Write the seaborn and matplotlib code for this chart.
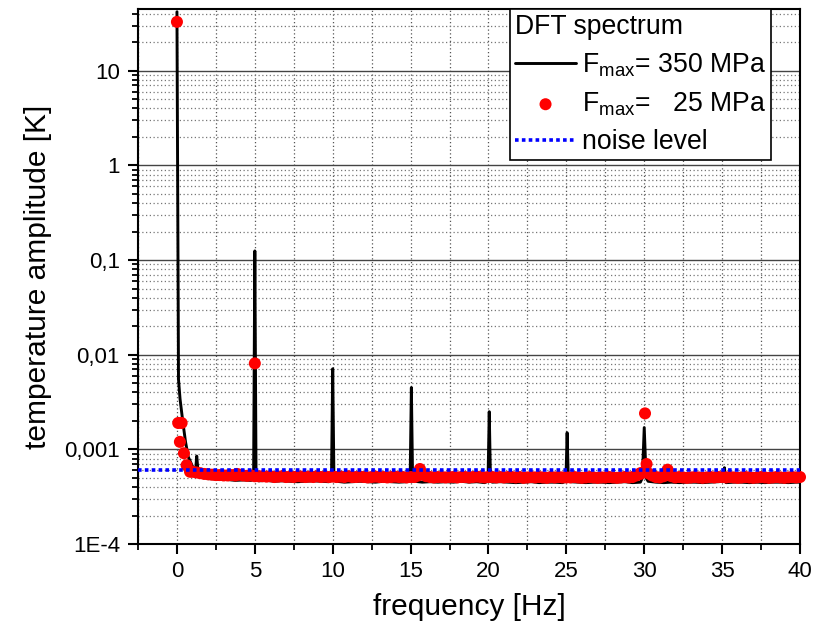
import numpy as np
import pandas as pd
import matplotlib
matplotlib.use('Agg')
import matplotlib.pyplot as plt
import matplotlib.ticker as mticker
import seaborn as sns

# --- data (frequency in Hz, amplitude in K) ---

# black spectrum, F_max = 350 MPa: DC decay and harmonic peaks
black_peak_freq = [0.0, 0.1, 0.2, 0.37, 0.55, 0.73, 1.0, 1.2, 1.27, 1.35, 1.6, 2.0,
                   4.92, 5.0, 5.08, 9.92, 10.0, 10.08, 14.97, 15.05, 15.13,
                   19.97, 20.05, 20.13, 24.97, 25.05, 25.13, 29.88, 30.0, 30.12,
                   35.07, 35.15, 35.23, 40.0]
black_peak_amp = [42.0, 0.0055, 0.0034, 0.002, 0.0012, 0.00083, 0.00066, 0.0006,
                  0.00085, 0.0006, 0.00053, 0.00049,
                  0.00048, 0.125, 0.00048, 0.00047, 0.0071, 0.00047,
                  0.00046, 0.0045, 0.00046, 0.00046, 0.0025, 0.00046,
                  0.00046, 0.0015, 0.00046, 0.0005, 0.0017, 0.0005,
                  0.00046, 0.00064, 0.00046, 0.00045]
# black noise floor between the peaks (units of 1E-4 K)
black_base_freq = np.arange(2.25, 40.0, 0.5)
black_base_amp = [4.9, 4.8, 4.8, 4.7, 4.75, 4.7, 4.65, 4.7, 4.6, 4.65,
                  4.6, 4.55, 4.6, 4.65, 4.6, 4.55, 4.6, 4.5, 4.55, 4.6,
                  4.55, 4.5, 4.6, 4.55, 4.5, 4.55, 4.6, 4.5, 4.55, 4.5,
                  4.55, 4.5, 4.6, 4.5, 4.55, 4.45, 4.5, 4.55, 4.5, 4.45,
                  4.5, 4.55, 4.45, 4.5, 4.5, 4.45, 4.55, 4.5, 4.45, 4.5,
                  4.5, 4.45, 4.5, 4.55, 4.45, 4.5, 4.6, 4.5, 4.45, 4.5,
                  4.45, 4.5, 4.5, 4.45, 4.5, 4.55, 4.45, 4.5, 4.5, 4.45,
                  4.5, 4.45, 4.5, 4.5, 4.45, 4.5]

# red points, F_max = 25 MPa: DC region and peaks
red_peak_freq = [0.0, 0.08, 0.3, 0.19, 0.45, 0.62, 0.84, 3.85, 5.0, 15.6,
                 29.75, 30.05, 30.15, 31.5]
red_peak_amp = [32.9, 0.0019, 0.0019, 0.0012, 0.00091, 0.00068, 0.00058,
                0.00055, 0.0081, 0.00062, 0.00056, 0.0024, 0.0007, 0.00061]
# red noise floor (units of 1E-4 K)
red_base_freq = np.arange(1.0, 40.001, 0.25)
red_base_amp = [5.8, 5.7, 5.6, 5.5, 5.45,
                5.4, 5.35, 5.35, 5.3, 5.3, 5.35, 5.3, 5.4, 5.3, 5.25, 5.3, 5.2,
                5.2, 5.2, 5.15, 5.2, 5.1, 5.15, 5.2, 5.1, 5.15, 5.1,
                5.2, 5.15, 5.1, 5.15, 5.1, 5.2, 5.1, 5.15, 5.1, 5.15,
                5.1, 5.15, 5.1, 5.2, 5.1, 5.1, 5.15, 5.1, 5.05, 5.1,
                5.15, 5.1, 5.1, 5.05, 5.1, 5.15, 5.1, 5.1, 5.05, 5.1,
                5.1, 5.3, 5.5, 5.2, 5.1, 5.05, 5.1, 5.1, 5.05, 5.1,
                5.1, 5.05, 5.1, 5.1, 5.05, 5.1, 5.15, 5.1, 5.05, 5.1,
                5.1, 5.05, 5.1, 5.05, 5.1, 5.1, 5.05, 5.1, 5.0, 5.05,
                5.1, 5.05, 5.1, 5.05, 5.0, 5.1, 5.05, 5.1, 5.05, 5.05,
                5.05, 5.1, 5.05, 5.0, 5.05, 5.1, 5.05, 5.0, 5.05, 5.05,
                5.1, 5.05, 5.0, 5.05, 5.1, 5.05, 5.1, 5.3, 5.5, 5.8,
                5.6, 5.3, 5.1, 5.05, 5.2, 5.5, 5.2, 5.05, 5.1, 5.05,
                5.0, 5.05, 5.1, 5.05, 5.0, 5.05, 5.1, 5.05, 5.1, 5.1,
                5.05, 5.1, 5.05, 5.0, 5.05, 5.1, 5.05, 5.0, 5.05, 5.1,
                5.05, 5.0, 5.05, 5.1, 5.05, 5.0, 5.05, 5.1, 5.05, 5.1]

noise_level = 6.0e-4

y_tick_vals = [1e-4, 1e-3, 1e-2, 1e-1, 1, 10]
y_tick_labels = ['1E-4', '0,001', '0,01', '0,1', '1', '10']

# --- tables ---
black_df = pd.DataFrame({
    'freq': np.concatenate([black_peak_freq, black_base_freq]),
    'amp': np.concatenate([black_peak_amp, np.array(black_base_amp) * 1e-4]),
}).sort_values('freq')
red_df = pd.DataFrame({
    'freq': np.concatenate([red_peak_freq, red_base_freq]),
    'amp': np.concatenate([red_peak_amp, np.array(red_base_amp) * 1e-4]),
})

sns.set_style('white')
plt.rcParams['font.family'] = ['Liberation Sans', 'DejaVu Sans']
plt.rcParams['mathtext.fontset'] = 'custom'
plt.rcParams['mathtext.rm'] = 'Liberation Sans'
plt.rcParams['mathtext.it'] = 'Liberation Sans:italic'
plt.rcParams['text.color'] = 'black'
plt.rcParams['axes.labelcolor'] = 'black'

fig = plt.figure(figsize=(8.13, 6.24), dpi=100)
ax = fig.add_axes([138 / 813, 1 - 544 / 624, (800 - 138) / 813, (544 - 9) / 624])

sns.lineplot(data=black_df, x='freq', y='amp', ax=ax, color='black', lw=2.1,
             sort=False, estimator=None, zorder=2,
             label=r'F$_{\rm max}$= 350 MPa')
sns.scatterplot(data=red_df, x='freq', y='amp', ax=ax, color='#ff0000', s=75,
                edgecolor='none', linewidth=0, zorder=3, clip_on=False,
                label=r'F$_{\rm max}$=   25 MPa')
ax.axhline(noise_level, color='#0000ff', lw=2.6, ls=(0, (1, 0.9)),
           zorder=4, label='noise level')

ax.set_yscale('log')
ax.set_xlim(-2.5, 40)
ax.set_ylim(1e-4, 45)

ax.xaxis.set_major_locator(mticker.MultipleLocator(5))
ax.xaxis.set_minor_locator(mticker.MultipleLocator(2.5))
ax.yaxis.set_major_locator(mticker.FixedLocator(y_tick_vals))
ax.yaxis.set_minor_locator(mticker.LogLocator(base=10, subs=np.arange(2, 10), numticks=20))
ax.yaxis.set_major_formatter(mticker.FixedFormatter(y_tick_labels))
ax.yaxis.set_minor_formatter(mticker.NullFormatter())

ax.tick_params(which='major', direction='out', length=7, width=1.5,
               labelsize=16, color='black', labelcolor='black')
ax.tick_params(axis='y', which='major', pad=6)
ax.tick_params(axis='x', which='major', pad=5)
ax.tick_params(which='minor', direction='out', length=4, width=1.3, color='black')
ax.tick_params(left=True, bottom=True, which='both')

for sp in ax.spines.values():
    sp.set_visible(True)
    sp.set_color('black')
    sp.set_linewidth(1.5)

ax.set_axisbelow(True)
ax.grid(which='major', axis='y', color='#444444', lw=1.0, ls='-')
ax.grid(which='minor', axis='y', color='#777777', lw=0.9, ls=(0, (1, 2)))
ax.grid(which='both', axis='x', color='#555555', lw=0.9, ls=(0, (1, 2)))

ax.set_xlabel('frequency [Hz]', fontsize=21.5, labelpad=8)
ax.set_ylabel('temperature amplitude [K]', fontsize=21.5, labelpad=9)

handles, labels = ax.get_legend_handles_labels()
leg = ax.legend(handles, labels, title='DFT spectrum', loc='upper right',
                bbox_to_anchor=(0.956, 1.0), borderaxespad=0, frameon=True,
                fancybox=False, edgecolor='black', framealpha=1,
                fontsize=19.2, title_fontsize=19.2, handlelength=2.3,
                handletextpad=0.2, borderpad=0.2, labelspacing=0.42,
                alignment='left')
leg.get_frame().set_linewidth(1.2)

fig.savefig('out.png', dpi=100)
